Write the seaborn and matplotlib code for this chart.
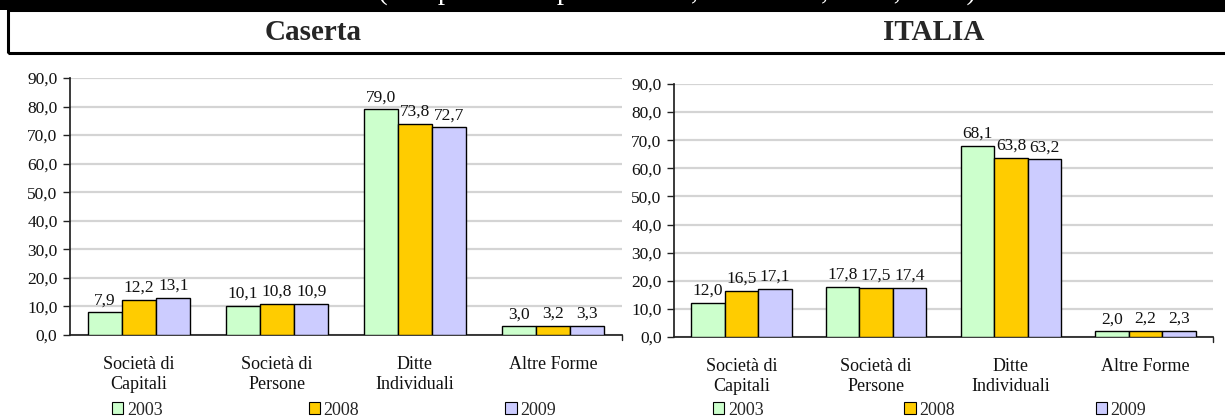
import matplotlib
matplotlib.use("Agg")
import matplotlib.pyplot as plt
from matplotlib.patches import Rectangle, Patch
from matplotlib.ticker import FuncFormatter, MultipleLocator
import pandas as pd
import seaborn as sns

# Composition of firms by legal form (%)
forme = ["Società di\nCapitali", "Società di\nPersone", "Ditte\nIndividuali", "Altre Forme"]
anni = ["2003", "2008", "2009"]
caserta_2003 = [7.9, 10.1, 79.0, 3.0]
caserta_2008 = [12.2, 10.8, 73.8, 3.2]
caserta_2009 = [13.1, 10.9, 72.7, 3.3]
italia_2003 = [12.0, 17.8, 68.1, 2.0]
italia_2008 = [16.5, 17.5, 63.8, 2.2]
italia_2009 = [17.1, 17.4, 63.2, 2.3]
titolo = "(composizione percentuale, anni 2003, 2008, 2009)"
territori = ["Caserta", "ITALIA"]

colori = ["#CCFFCC", "#FFCC00", "#CCCCFF"]

sns.set_theme(style="white")
plt.rcParams["font.family"] = ["Liberation Serif", "DejaVu Serif"]


def long_table(s03, s08, s09):
    rows = []
    for anno, serie in zip(anni, [s03, s08, s09]):
        for forma, v in zip(forme, serie):
            rows.append({"forma": forma, "anno": anno, "valore": v})
    return pd.DataFrame(rows)


def virgola(v, _=None):
    return f"{v:.1f}".replace(".", ",")


W, H = 1225, 419
fig = plt.figure(figsize=(W / 100, H / 100), dpi=100)

# title band (its text runs above the top edge) and header row
fig.patches.append(Rectangle((0, 1 - 10 / H), 1, 10 / H, transform=fig.transFigure,
                             facecolor="black", edgecolor="none", zorder=0))
fig.text(677 / W, 1 + 1 / H, titolo, color="white", fontsize=21, ha="center",
         va="baseline", zorder=2)
fig.patches.append(Rectangle((8 / W, 1 - 53 / H), 1.2, 43 / H, transform=fig.transFigure,
                             facecolor="none", edgecolor="black", linewidth=2.2, zorder=1))
fig.text(313 / W, 1 - 32 / H, territori[0], fontsize=21, fontweight="bold",
         ha="center", va="center")
fig.text(934 / W, 1 - 32 / H, territori[1], fontsize=21, fontweight="bold",
         ha="center", va="center")

boxes = [
    (70 / W, 1 - 335 / H, 552 / W, 257 / H),
    (674 / W, 1 - 337 / H, 539 / W, 253 / H),
]
dati = [
    long_table(caserta_2003, caserta_2008, caserta_2009),
    long_table(italia_2003, italia_2008, italia_2009),
]
legend_x = [112 / W, 713 / W]
legend_gap = [8.1, 7.8]

for box, df, lx, gap in zip(boxes, dati, legend_x, legend_gap):
    ax = fig.add_axes(box)
    sns.barplot(data=df, x="forma", y="valore", hue="anno", palette=colori,
                edgecolor="black", linewidth=1.0, width=0.745, gap=0,
                saturation=1, errorbar=None, ax=ax, legend=False, zorder=3)
    for cont in ax.containers:
        ax.bar_label(cont, labels=[virgola(b.get_height()) for b in cont],
                     padding=3, fontsize=12.5, color="#111111")
    ax.set_ylim(0, 90)
    ax.set_xlim(-0.5, 3.5)
    ax.yaxis.set_major_locator(MultipleLocator(10))
    ax.yaxis.set_major_formatter(FuncFormatter(virgola))
    ax.grid(axis="y", color="#D4D4D4", linewidth=1.6, zorder=0)
    ax.set_axisbelow(True)
    for s in ["top", "right"]:
        ax.spines[s].set_visible(False)
    ax.spines["left"].set_color("#222222")
    ax.spines["bottom"].set_color("#222222")
    ax.tick_params(axis="y", left=True, length=5, width=1, color="#222222",
                   labelsize=12.5, pad=4, labelcolor="#111111")
    ax.tick_params(axis="x", bottom=False, labelsize=13, pad=9, labelcolor="#111111")
    for t in ax.get_xticklabels():
        t.set_linespacing(1.25)
    # small closing tick at the right end of the category axis
    ax.plot([1, 1], [0, -0.02], transform=ax.transAxes, color="#222222",
            linewidth=1, clip_on=False)
    ax.set_xlabel("")
    ax.set_ylabel("")
    handles = [Patch(facecolor=c, edgecolor="black", linewidth=0.8) for c in colori]
    fig.legend(handles, anni, loc="center left", bbox_to_anchor=(lx, 1 - 410 / H),
               ncol=3, frameon=False, fontsize=13, handlelength=0.62, handleheight=0.62,
               handletextpad=0.2, columnspacing=gap, borderaxespad=0, borderpad=0)

fig.savefig("out.png", dpi=100)
